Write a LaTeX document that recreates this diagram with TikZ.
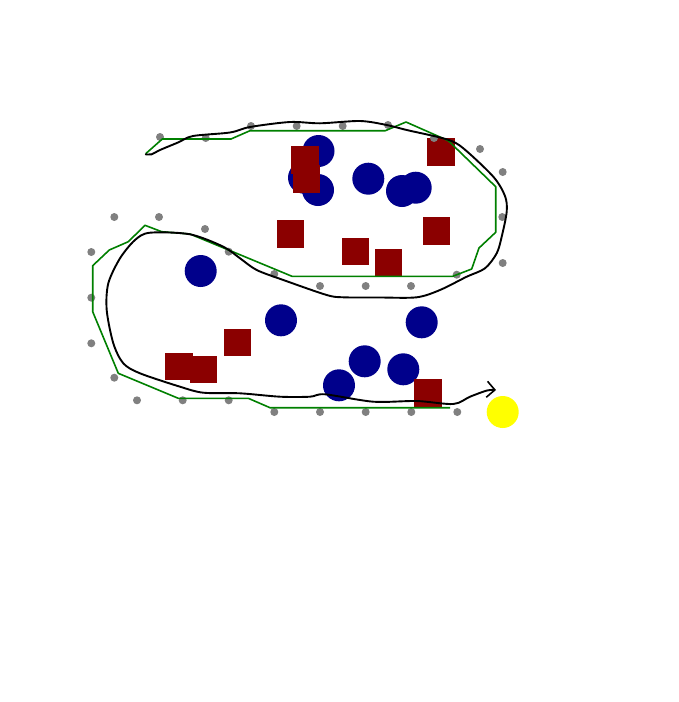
\documentclass[tikz,border=0pt]{standalone}
\usetikzlibrary{arrows.meta}
\definecolor{obsblue}{RGB}{0,0,139}
\definecolor{obsred}{RGB}{139,0,0}
\definecolor{pathgreen}{RGB}{0,128,0}
\definecolor{dotgray}{RGB}{128,128,128}
\definecolor{goalyellow}{RGB}{255,255,0}
\tikzset{
  disc/.style={circle,fill=obsblue,draw=none,minimum size=32pt,inner sep=0pt},
  block/.style={rectangle,fill=obsred,draw=none,minimum width=27.5pt,minimum height=27.5pt,inner sep=0pt},
  wp/.style={circle,fill=dotgray,draw=none,minimum size=8pt,inner sep=0pt},
  goal/.style={circle,fill=goalyellow,draw=none,minimum size=32pt,inner sep=0pt},
  plan/.style={draw=pathgreen,line width=1.6pt,line join=round},
  track/.style={draw=black,line width=1.9pt,line join=round,line cap=round},
}
\begin{document}
\begin{tikzpicture}[x=1pt,y=-1pt]
\useasboundingbox (0,0) rectangle (679,702);
\fill[white] (0,0) rectangle (679,702);
% blue circular obstacles
\node[disc] (c1) at (318.5,151) {};
\node[disc] (c2) at (304,177.7) {};
\node[disc] (c3) at (318,190) {};
\node[disc] (c4) at (368.3,178.7) {};
\node[disc] (c5) at (402,191) {};
\node[disc] (c6) at (415.7,187.7) {};
\node[disc] (c7) at (200.7,271) {};
\node[disc] (c8) at (281,320.3) {};
\node[disc] (c9) at (421.7,322.3) {};
\node[disc] (c10) at (364.7,361.3) {};
\node[disc] (c11) at (403.3,369.3) {};
\node[disc] (c12) at (339,385.3) {};
% red square obstacles
\node[block] (s1) at (305.2,160) {};
\node[block] (s2) at (306.5,178.8) {};
\node[block] (s3) at (440.8,151.8) {};
\node[block] (s4) at (436.3,230.8) {};
\node[block] (s5) at (355.5,251.3) {};
\node[block] (s6) at (388.5,262.3) {};
\node[block] (s7) at (290.3,233.8) {};
\node[block] (s8) at (237.5,342.3) {};
\node[block] (s9) at (179,366.7) {};
\node[block] (s10) at (203.3,369.3) {};
\node[block] (s11) at (428,393) {};
% gray waypoints
\foreach \px/\py [count=\i] in {160/137,205.7/138,251/126,296.7/126,342.7/126,388/125,434/138,480/149,502.7/172,502.3/217,502.7/263,456.7/274.7,411/286,365.7/286,320/286,274.3/274,228.7/251.7,205/229,159/217,114.3/217,91.3/252,91.3/297.7,91.3/343.3,114.3/377.7,137/400.3,182.7/400.3,228.7/400.3,274.3/412,320/412,365.7/412,411.3/412,457.3/412}
  \node[wp] (w\i) at (\px,\py) {};
% goal
\node[goal] (g) at (502.7,412) {};
% planned path (green)
\draw[plan] (145.7,153.7) -- (162.3,139) -- (231,139) -- (250,130.7) -- (385.3,130.7) -- (406,122)
  -- (448.3,140.7) -- (495.7,186.7) -- (495.7,232.3) -- (479,248) -- (471.7,269) -- (452.7,276.3)
  -- (292,276.3) -- (190,234) -- (161.7,231.7) -- (145,225.3) -- (128.3,241.7) -- (109.3,250)
  -- (92.7,265.7) -- (92.7,311.7) -- (118.3,373.3) -- (178.3,398.3) -- (248.3,398.3) -- (270,407.7)
  -- (450,407.7);
% executed trajectory (black)
\draw[track,-{Straight Barb[length=8pt,width=16pt,line width=1.6pt]}] plot[smooth,tension=0.5] coordinates {
  (145.7,154.3) (151.7,154.3) (160,150) (178,142.5) (193,136) (230,132.5) (250,127) (290,122)
  (320,123.3) (360,121) (386.7,125) (406.7,130) (446.7,139.3) (463.3,148.3) (493.3,176.7)
  (505,196) (506.7,211.7) (501.7,236.7) (496.7,253.3) (485,268.3) (466.7,276.7) (440,290)
  (416.7,297.3) (380,297.5) (343.3,297.3) (326.7,295) (283.3,280) (256.7,270) (240,258.3)
  (223.3,246.7) (190,234.3) (150,232.7) (135,240) (120,258.3) (108.3,283.3) (106.7,310)
  (113.3,343.3) (123.3,363.3) (140,373.3) (180,386.7) (203.3,392.7) (240,393.3) (280,396.7)
  (310,396.7) (325,394.3) (373.3,401.7) (416.7,401) (453.3,404) (470,396.7) (487,390.5) (496,390)};
\end{tikzpicture}
\end{document}
